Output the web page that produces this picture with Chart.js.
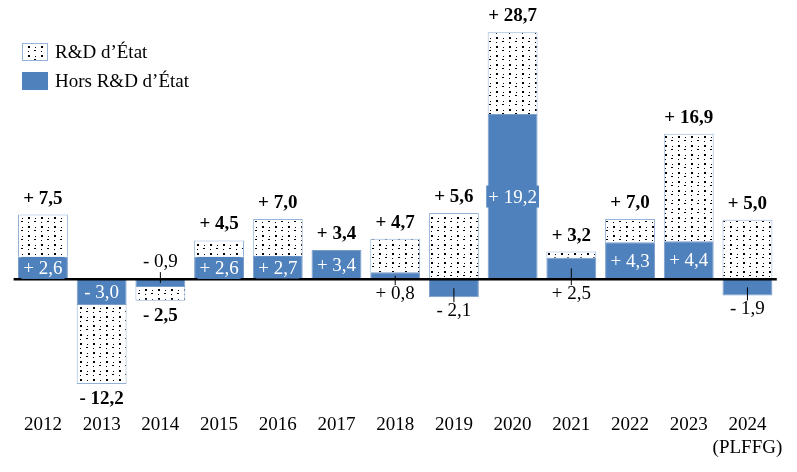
<!DOCTYPE html>
<html>
<head>
<meta charset="utf-8">
<script src="https://cdn.jsdelivr.net/npm/chart.js@4.4.1/dist/chart.umd.min.js"></script>
<style>
  html, body { margin: 0; padding: 0; background: #fff; }
  #wrap { width: 797px; height: 472px; }
</style>
</head>
<body>
<div id="wrap"><canvas id="chart" width="797" height="472"></canvas></div>
<script>
const years = ['2012', '2013', '2014', '2015', '2016', '2017', '2018', '2019', '2020', '2021', '2022', '2023', ['2024', '(PLFFG)']];
const horsEtat = [2.6, -3.0, -0.9, 2.6, 2.7, 3.4, 0.8, -2.1, 19.2, 2.5, 4.3, 4.4, -1.9];
const etat = [4.9, -9.2, -1.6, 1.9, 4.3, null, 3.9, 7.7, 9.5, 0.7, 2.7, 12.5, 6.9];
const totals = [7.5, -12.2, -2.5, 4.5, 7.0, 3.4, 4.7, 5.6, 28.7, 3.2, 7.0, 16.9, 5.0];

const BLUE = '#4F81BD';
const EDGE = '#95B3D7';
const FONT = "'Liberation Serif', 'Times New Roman', serif";

const dotPattern = () => {
    const c = document.createElement('canvas');
    c.width = 13;
    c.height = 9;
    const g = c.getContext('2d');
    g.fillStyle = '#fff';
    g.fillRect(0, 0, 13, 9);
    g.fillStyle = '#000';
    g.fillRect(2, 1, 2, 2);
    g.fillRect(9, 2, 1, 1);
    g.fillRect(2, 6, 1, 1);
    g.fillRect(8, 5, 2, 1);
    return g.createPattern(c, 'repeat');
};
const dots = dotPattern();

const fmt = v => (v >= 0 ? '+ ' : '- ') + Math.abs(v).toFixed(1).replace('.', ',');

const labelPlugin = {
    id: 'labels',
    afterDatasetsDraw(chart) {
        const ctx = chart.ctx;
        const area = chart.chartArea;
        const y = chart.scales.y;
        const zero = y.getPixelForValue(0);
        const meta = chart.getDatasetMeta(0);

        ctx.save();
        // ligne du zéro
        ctx.strokeStyle = '#000';
        ctx.lineWidth = 2.5;
        ctx.beginPath();
        ctx.moveTo(area.left, zero);
        ctx.lineTo(area.right, zero);
        ctx.stroke();

        ctx.textAlign = 'center';
        ctx.textBaseline = 'middle';

        horsEtat.forEach((v, i) => {
            const bar = meta.data[i];
            const cx = bar.x;
            const mid = (bar.y + bar.base) / 2;
            const text = fmt(v);
            ctx.font = '19px ' + FONT;
            if (Math.abs(v) >= 2.6) {
                const w = ctx.measureText(text).width + 4;
                ctx.fillStyle = BLUE;
                ctx.fillRect(cx - w / 2, mid - 11, w, 22);
                ctx.fillStyle = '#fff';
                ctx.fillText(text, cx, mid + 1);
                return;
            }
            let lineEnd, ly;
            if (v < 0 && totals[i] < 0) {
                lineEnd = zero - 7;
                ly = zero - 17;
            } else if (v < 0) {
                const bottom = y.getPixelForValue(v);
                lineEnd = bottom + 5;
                ly = bottom + 14;
            } else {
                lineEnd = zero + 6;
                ly = zero + 15;
            }
            ctx.strokeStyle = '#000';
            ctx.lineWidth = 1;
            ctx.beginPath();
            ctx.moveTo(cx, mid);
            ctx.lineTo(cx, lineEnd);
            ctx.stroke();
            ctx.fillStyle = '#000';
            ctx.fillText(text, cx, ly);
        });

        totals.forEach((t, i) => {
            const parts = [horsEtat[i], etat[i] || 0];
            const pos = parts.filter(v => v > 0).reduce((a, b) => a + b, 0);
            const neg = parts.filter(v => v < 0).reduce((a, b) => a + b, 0);
            const cx = meta.data[i].x;
            const py = t >= 0 ? y.getPixelForValue(pos) - 16 : y.getPixelForValue(neg) + 15;
            ctx.font = 'bold 19px ' + FONT;
            ctx.fillStyle = '#000';
            ctx.fillText(fmt(t), cx, py);
        });
        ctx.restore();
    },
    afterDraw(chart) {
        const ctx = chart.ctx;
        ctx.save();
        ctx.lineWidth = 1;
        ctx.fillStyle = dots;
        ctx.fillRect(22, 43, 26, 18);
        ctx.strokeStyle = EDGE;
        ctx.strokeRect(22.5, 43.5, 25, 17);
        ctx.fillStyle = BLUE;
        ctx.fillRect(22, 72, 26, 18);
        ctx.fillStyle = '#000';
        ctx.font = '19px ' + FONT;
        ctx.textAlign = 'left';
        ctx.textBaseline = 'middle';
        ctx.fillText('R&D d\u2019\u00C9tat', 55, 53);
        ctx.fillText('Hors R&D d\u2019\u00C9tat', 55, 82);
        ctx.restore();
    }
};

new Chart(document.getElementById('chart'), {
    type: 'bar',
    data: {
        labels: years,
        datasets: [{
            label: 'Hors R&D d\u2019\u00C9tat',
            data: horsEtat,
            backgroundColor: BLUE,
            borderColor: '#7B9DCB',
            borderWidth: 1
        }, {
            label: 'R&D d\u2019\u00C9tat',
            data: etat,
            backgroundColor: dots,
            borderColor: EDGE,
            borderWidth: 1
        }]
    },
    options: {
        responsive: false,
        animation: false,
        layout: {
            padding: { left: 13.6, right: 18.6, top: 6.4, bottom: 12.8 }
        },
        datasets: {
            bar: { barPercentage: 0.85, categoryPercentage: 1 }
        },
        plugins: {
            legend: { display: false },
            tooltip: { enabled: false }
        },
        scales: {
            x: {
                stacked: true,
                grid: { display: false, drawTicks: false },
                border: { display: false },
                afterFit: s => { s.height = 59.6; },
                ticks: {
                    color: '#000',
                    padding: 14,
                    autoSkip: false,
                    maxRotation: 0,
                    minRotation: 0,
                    font: { family: FONT, size: 19 }
                }
            },
            y: {
                stacked: true,
                display: false,
                min: -14,
                max: 31.7
            }
        }
    },
    plugins: [labelPlugin]
});
</script>
</body>
</html>
